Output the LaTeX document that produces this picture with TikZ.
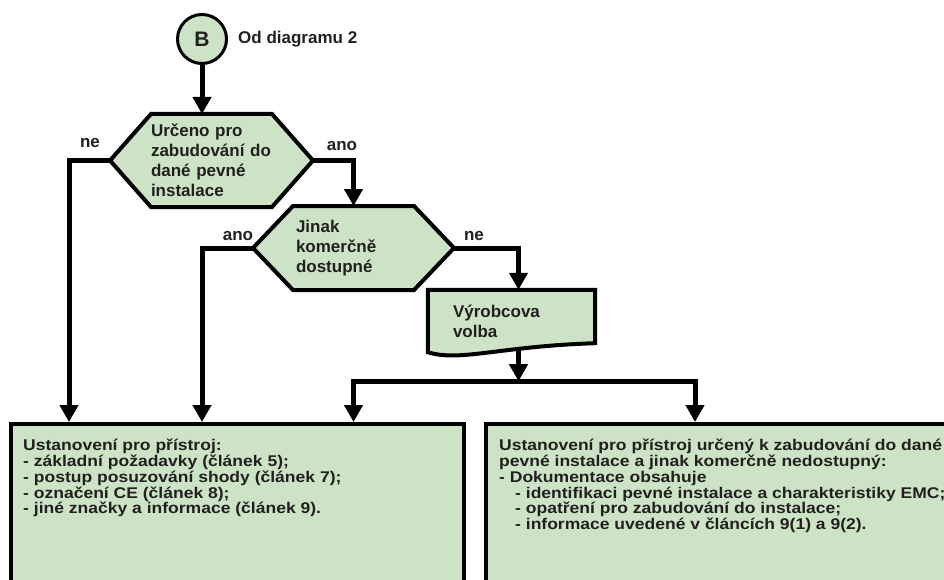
\documentclass[tikz,border=0pt]{standalone}
\usepackage{fontspec}
\setmainfont{Liberation Sans}
\newfontfamily\widefont[FakeStretch=1.13]{Liberation Sans}
\usetikzlibrary{
	positioning,
	calc,
	arrows.meta,
	shapes.symbols,
	backgrounds
}
\definecolor{FlowGreen}{RGB}{204,228,197}
\definecolor{FlowInk}{RGB}{35,31,32}
\newcommand{\TightLines}{\lineskiplimit=-20pt\relax}

\begin{document}
\begin{tikzpicture}[
		x=1pt, y=-1pt,
		every node/.style={font=\fontsize{17}{20}\selectfont\bfseries, text=FlowInk},
		flow/.style={line width=5pt, -{Triangle[width=18pt,length=17pt]}},
		outline/.style={draw, line width=4pt, fill=FlowGreen},
		decision/.style={outline, shape=signal, signal to=west and east, inner sep=0pt, outer sep=0pt, align=left},
		connector/.style={draw, line width=3pt, fill=FlowGreen, circle, minimum size=49pt, inner sep=0pt},
		infobox/.style={outline, anchor=north west, minimum height=200pt, inner sep=0pt},
		infotext/.style={anchor=north west, align=left, inner sep=0pt, font={\widefont\fontsize{15.5}{15.8}\selectfont\bfseries\TightLines}},
		answer/.style={anchor=base, inner sep=0pt}
	]
		\useasboundingbox (0,0) rectangle (944,580);

		\node[connector, font=\fontsize{21}{24}\selectfont\bfseries] (start) at (202,39) {B};
		\node[right=10pt of start, inner sep=0pt] (origin) {Od diagramu 2};

		\node[decision, minimum width=203pt, minimum height=93pt, signal pointer angle=97.2, text width=121pt] (fixed) at (211.5,160.5) {Určeno pro\\zabudování do\\dané pevné\\instalace};
		\node[decision, minimum width=201pt, minimum height=84pt, signal pointer angle=92.8, text width=115pt] (market) at (353.5,248) {Jinak\\komerčně\\dostupné};

		\node[inner sep=0pt, minimum width=167pt, minimum height=62pt, text width=117pt, align=left] (choice) at (511.5,321) {Výrobcova\\volba};
		\begin{scope}[on background layer]
			\draw[outline] (choice.south west) -- (choice.north west) -- (choice.north east) -- ([yshift=9pt]choice.south east)
				.. controls ([xshift=72pt,yshift=6pt]choice.south west) and ([xshift=32pt,yshift=-10pt]choice.south west) .. cycle;
		\end{scope}

		\node[infobox, minimum width=453pt] (general) at (9,422) {};
		\node[infobox, minimum width=480pt] (special) at (484,422) {};

		\node[infotext] (generaltext) at ([xshift=14pt,yshift=-17pt]general.north west) {Ustanovení pro přístroj:\\
			- základní požadavky (článek 5);\\
			- postup posuzování shody (článek 7);\\
			- označení CE (článek 8);\\
			- jiné značky a informace (článek 9).};
		\node[infotext] (specialtext) at ([xshift=15pt,yshift=-17pt]special.north west) {Ustanovení pro přístroj určený k zabudování do dané\\
			pevné instalace a jinak komerčně nedostupný:\\
			- Dokumentace obsahuje\\
			\hspace*{16pt}- identifikaci pevné instalace a charakteristiky EMC;\\
			\hspace*{16pt}- opatření pro zabudování do instalace;\\
			\hspace*{16pt}- informace uvedené v článcích 9(1) a 9(2).};

		\node[answer, xshift=-20pt, yshift=13pt] (fixedno) at (fixed.west) {ne};
		\node[answer, xshift=29pt, yshift=10pt] (fixedyes) at (fixed.east) {ano};
		\node[answer, xshift=-15pt, yshift=8pt] (marketyes) at (market.west) {ano};
		\node[answer, xshift=20pt, yshift=8pt] (marketno) at (market.east) {ne};

		\coordinate (choiceout) at ([xshift=7pt,yshift=4pt]choice.south);
		\coordinate (split) at ([yshift=-33pt]choiceout);

		\draw[flow] (start) -- (start |- fixed.north);
		\draw[flow] (fixed.west) -| ([xshift=60pt]general.north west);
		\draw[flow] (fixed.east) -| (market.north);
		\draw[flow] (market.west) -| (start |- general.north);
		\draw[flow] (market.east) -| ([xshift=7pt]choice.north);
		\draw[flow] (choiceout) -- (split);
		\draw[flow] (split) -| (market.north |- general.north);
		\draw[flow] (split) -| ([xshift=211pt]special.north west);

	\end{tikzpicture}
\end{document}
